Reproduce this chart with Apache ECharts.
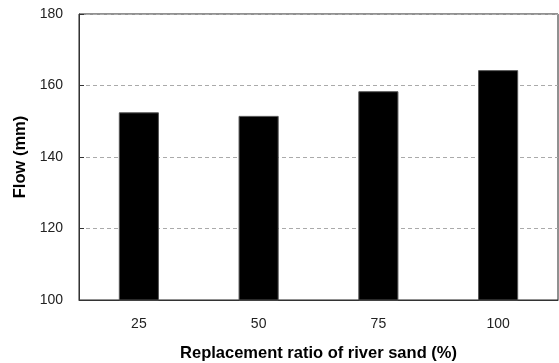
<!DOCTYPE html>
<html><head><meta charset="utf-8">
<script src="https://cdn.jsdelivr.net/npm/echarts@6/dist/echarts.min.js"></script>
<style>html,body{margin:0;padding:0;background:#fff}#c{width:559px;height:363px}</style>
</head><body><div id="c"></div>
<script>
const categories = ['25', '50', '75', '100'];
const flowValues = [152.5, 151.5, 158.4, 164.3];
const yTicks = [100, 120, 140, 160, 180];

const chart = echarts.init(document.getElementById('c'), null, {renderer: 'canvas'});
chart.setOption({
  animation: false,
  grid: {left: 79, right: 1, top: 14, bottom: 63, outerBoundsMode: 'none', containLabel: false, show: true, borderColor: '#222', borderWidth: 1, backgroundColor: 'transparent'},
  xAxis: {
    type: 'category', data: categories,
    name: 'Replacement ratio of river sand (%)', nameLocation: 'middle', nameGap: 45,
    nameTextStyle: {fontFamily: 'Liberation Sans', fontWeight: 'bold', fontSize: 16.5, color: '#000'},
    axisLine: {lineStyle: {color: '#333'}},
    axisTick: {show: false},
    axisLabel: {fontFamily: 'Liberation Sans', fontSize: 14, color: '#222', margin: 17}
  },
  yAxis: {
    type: 'value', min: yTicks[0], max: yTicks[yTicks.length - 1], interval: 20,
    name: 'Flow (mm)', nameLocation: 'middle', nameGap: 47,
    nameTextStyle: {fontFamily: 'Liberation Sans', fontWeight: 'bold', fontSize: 16.5, color: '#000'},
    axisLine: {show: true, lineStyle: {color: '#333'}},
    axisTick: {show: true, inside: true, length: 5, lineStyle: {color: '#333'}},
    axisLabel: {fontFamily: 'Liberation Sans', fontSize: 14, color: '#222', margin: 16},
    splitLine: {show: true, lineStyle: {color: '#aaa', type: [4, 3]}}
  },
  series: [{
    type: 'bar', data: flowValues, barWidth: '33.5%',
    itemStyle: {color: '#000', borderColor: '#555', borderWidth: 1}
  }]
});
</script></body></html>
